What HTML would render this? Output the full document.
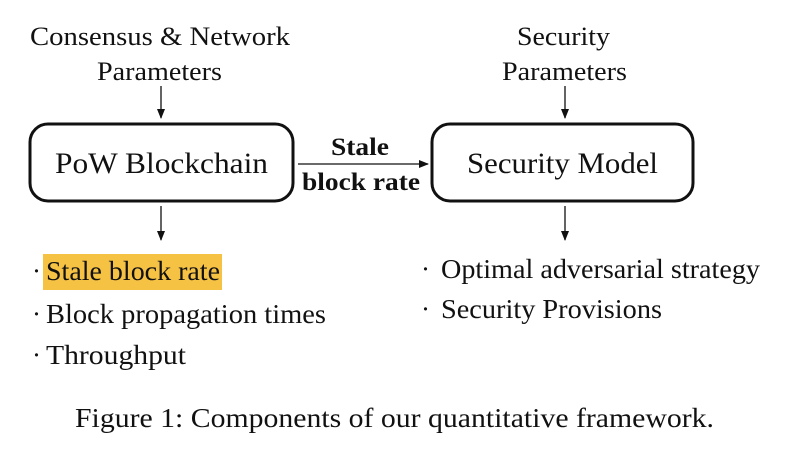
<!DOCTYPE html>
<html><head><style>
html,body{margin:0;padding:0;background:#fff;}
svg{display:block;}
text{font-family:"Liberation Serif",serif;fill:#111;}
</style></head><body>
<svg width="788" height="460" viewBox="0 0 788 460" xmlns="http://www.w3.org/2000/svg">
<defs><marker id="a" markerWidth="10" markerHeight="8" refX="9" refY="4" orient="auto" markerUnits="userSpaceOnUse"><path d="M0,0 L10,4 L0,8 Z" fill="#111"/></marker></defs>
<g font-size="26" lengthAdjust="spacingAndGlyphs">
<text x="30" y="45" textLength="260" lengthAdjust="spacingAndGlyphs">Consensus &amp; Network</text>
<text x="97" y="80" textLength="125" lengthAdjust="spacingAndGlyphs">Parameters</text>
<text x="517" y="45" textLength="93" lengthAdjust="spacingAndGlyphs">Security</text>
<text x="502" y="80" textLength="125" lengthAdjust="spacingAndGlyphs">Parameters</text>
</g>
<line x1="161" y1="86" x2="161" y2="118" stroke="#111" stroke-width="1.3" marker-end="url(#a)"/>
<line x1="565" y1="86" x2="565" y2="118" stroke="#111" stroke-width="1.3" marker-end="url(#a)"/>
<rect x="30" y="124" width="263" height="77" rx="18" fill="none" stroke="#111" stroke-width="3"/>
<rect x="432" y="124" width="261" height="77" rx="18" fill="none" stroke="#111" stroke-width="3"/>
<text x="55" y="173" font-size="30" textLength="213" lengthAdjust="spacingAndGlyphs">PoW Blockchain</text>
<text x="467" y="173" font-size="30" textLength="191" lengthAdjust="spacingAndGlyphs">Security Model</text>
<line x1="298" y1="164" x2="428" y2="164" stroke="#111" stroke-width="1.3" marker-end="url(#a)"/>
<text x="331" y="155" font-size="25" font-weight="bold" textLength="58" lengthAdjust="spacingAndGlyphs">Stale</text>
<text x="302" y="190" font-size="25" font-weight="bold" textLength="118" lengthAdjust="spacingAndGlyphs">block rate</text>
<line x1="161" y1="206" x2="161" y2="240" stroke="#111" stroke-width="1.3" marker-end="url(#a)"/>
<line x1="565" y1="206" x2="565" y2="240" stroke="#111" stroke-width="1.3" marker-end="url(#a)"/>
<rect x="43" y="254" width="179" height="36" fill="#f6c244"/>
<g font-size="27">
<text x="32" y="280">·</text><text x="46" y="280" textLength="174" lengthAdjust="spacingAndGlyphs">Stale block rate</text>
<text x="32" y="323">·</text><text x="46" y="323" textLength="280" lengthAdjust="spacingAndGlyphs">Block propagation times</text>
<text x="32" y="364">·</text><text x="46" y="364" textLength="140" lengthAdjust="spacingAndGlyphs">Throughput</text>
<text x="421" y="278">·</text><text x="441" y="278" textLength="319" lengthAdjust="spacingAndGlyphs">Optimal adversarial strategy</text>
<text x="421" y="318">·</text><text x="441" y="318" textLength="221" lengthAdjust="spacingAndGlyphs">Security Provisions</text>
</g>
<text x="75" y="427" font-size="27" textLength="639" lengthAdjust="spacingAndGlyphs">Figure 1: Components of our quantitative framework.</text>
</svg>
</body></html>
